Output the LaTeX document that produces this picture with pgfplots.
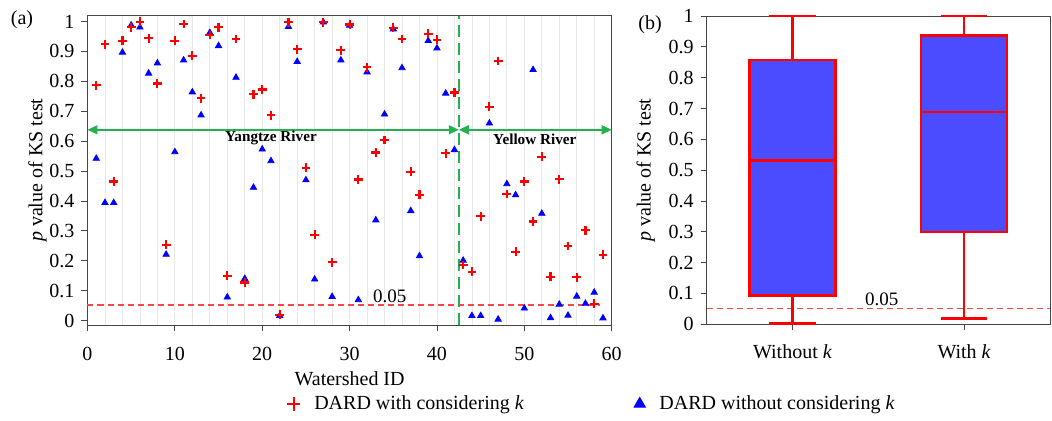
\documentclass[border=0pt]{standalone}
\usepackage{fontspec}
\setmainfont{Liberation Serif}
\usepackage{pgfplots}
\usepackage{pgfplotstable}
\pgfplotsset{compat=1.18}
\usepgfplotslibrary{statistics}
\usetikzlibrary{arrows.meta}
\definecolor{rivgreen}{RGB}{34,177,76}
\definecolor{boxblue}{RGB}{75,75,255}
\definecolor{framegray}{RGB}{70,70,70}
\definecolor{reflred}{RGB}{250,70,70}

% watershed ID, p value with k (red), p value without k (blue)
\pgfplotstableread{
id  withk  withoutk
1   0.787  0.542
2   0.924  0.394
3   0.465  0.394
4   0.936  0.897
5   0.981  0.988
6   0.999  0.981
7   0.944  0.827
8   0.793  0.861
9   0.254  0.221
10  0.936  0.564
11  0.992  0.871
12  0.886  0.764
13  0.744  0.687
14  0.955  0.963
15  0.981  0.919
16  0.150  0.078
17  0.942  0.813
18  0.127  0.140
19  0.757  0.445
20  0.773  0.573
21  0.687  0.534
22  0.019  0.016
23  0.998  0.983
24  0.907  0.866
25  0.511  0.470
26  0.287  0.138
27  0.998  0.998
28  0.195  0.080
29  0.904  0.871
30  0.990  0.987
31  0.472  0.069
32  0.847  0.831
33  0.562  0.336
34  0.604  0.690
35  0.979  0.975
36  0.942  0.845
37  0.498  0.367
38  0.421  0.216
39  0.959  0.936
40  0.939  0.911
41  0.560  0.760
42  0.763  0.571
43  0.186  0.201
44  0.163  0.016
45  0.349  0.016
46  0.715  0.660
47  0.868  0.004
48  0.423  0.457
49  0.230  0.420
50  0.465  0.041
51  0.331  0.839
52  0.548  0.358
53  0.146  0.009
54  0.473  0.054
55  0.249  0.017
56  0.145  0.081
57  0.302  0.057
58  0.056  0.094
59  0.220  0.008
}\pvals

\pgfplotsset{
  panel/.style={
    scale only axis,
    font=\fontsize{10}{12}\selectfont,
    tick pos=left, tick align=outside,
    major tick length=3pt, minor tick length=0pt,
    axis line style={framegray},
    every tick/.style={framegray},
    /pgf/number format/assume math mode=true,
    yticklabel style={/pgf/number format/fixed, /pgf/number format/precision=1},
    ytick={0,0.1,0.2,0.3,0.4,0.5,0.6,0.7,0.8,0.9,1},
    ylabel={\textit{p} value of KS test},
    clip=false,
  },
}

\begin{document}
\begin{tikzpicture}
  % (a) scatter
  \begin{axis}[
    panel,
    at={(0,0)}, anchor=south west,
    width=262.1pt, height=154.7pt,
    xmin=0, xmax=60, ymin=-0.015, ymax=1.02,
    xtick={0,10,20,30,40,50,60},
    minor x tick num=4,
    xmajorgrids, xminorgrids,
    major grid style={gray!18}, minor grid style={gray!18},
    xticklabel style={yshift=-4.5pt},
    xlabel={Watershed ID},
    xlabel style={yshift=1.5pt},
    ylabel style={yshift=-5.5pt},
    reverse legend,
    legend columns=2,
    legend style={draw=none, fill=none, inner sep=0pt,
      at={(0.38,-0.255)}, anchor=west,
      nodes={inner sep=1pt, font=\fontsize{10}{12}\selectfont},
      /tikz/every odd column/.append style={column sep=6pt},
      /tikz/every even column/.append style={column sep=54pt}},
    legend image code/.code={\draw[#1, mark size=3.3pt] plot coordinates {(0cm,0cm)};},
  ]
    \addplot[forget plot, no marks, reflred, line width=0.75pt, dash pattern=on 3pt off 2pt]
      coordinates {(0,0.052) (58.7,0.052)};
    \node[font=\fontsize{9.5}{11}\selectfont] at (34.6,0.080) {0.05};
    \draw[rivgreen, line width=0.8pt, dash pattern=on 6pt off 3pt] (42.5,-0.015) -- (42.5,1.02);
    \draw[rivgreen, line width=0.8pt, {Triangle[length=5pt,width=4.5pt]}-{Triangle[length=5pt,width=4.5pt]}] (0,0.638) -- (42.5,0.638);
    \draw[rivgreen, line width=0.8pt, {Triangle[length=5pt,width=4.5pt]}-{Triangle[length=5pt,width=4.5pt]}] (42.5,0.638) -- (60,0.638);
    \node[font=\fontsize{7.6}{9}\selectfont\bfseries] at (21.0,0.612) {Yangtze River};
    \node[font=\fontsize{7.6}{9}\selectfont\bfseries] at (51.2,0.607) {Yellow River};

    \addplot[only marks, mark=triangle*, mark size=1.8pt, color=blue, mark options={fill=blue}]
      table[x=id, y=withoutk] {\pvals};
    \addlegendentry{DARD without considering \textit{k}}
    \addplot[only marks, mark=+, mark size=2.2pt, color=red, line width=1.1pt]
      table[x=id, y=withk] {\pvals};
    \addlegendentry{DARD with considering \textit{k}}
  \end{axis}
  \node[font=\fontsize{10}{12}\selectfont] at (-32.75pt,152.5pt) {(a)};

  % (b) box plot
  \begin{axis}[
    panel,
    at={(309.6pt,0.35pt)}, anchor=south west,
    width=171.65pt, height=154.15pt,
    xmin=0.5, xmax=2.5, ymin=0, ymax=1,
    xtick={1,2},
    xticklabels={Without \textit{k}, With \textit{k}},
    xticklabel style={yshift=-3.5pt},
    boxplot/draw direction=y,
  ]
    \addplot[forget plot, no marks, reflred, line width=0.6pt, dash pattern=on 3pt off 2pt]
      coordinates {(0.5,0.05) (2.5,0.05)};
    \node[font=\fontsize{9.5}{11}\selectfont] at (1.52,0.081) {0.05};
    \addplot[draw=red, fill=boxblue, line width=1.2pt,
      boxplot prepared={lower whisker=0.003, lower quartile=0.094, median=0.531,
        upper quartile=0.857, upper whisker=1.0, draw position=1,
        box extend=0.5, whisker extend=0.27}]
      coordinates {};
    \addplot[draw=red, fill=boxblue, line width=1.2pt,
      boxplot prepared={lower whisker=0.019, lower quartile=0.300, median=0.688,
        upper quartile=0.937, upper whisker=1.0, draw position=2,
        box extend=0.5, whisker extend=0.27}]
      coordinates {};
  \end{axis}
  \node[font=\fontsize{10}{12}\selectfont] at (281.25pt,150pt) {(b)};

  \pgfresetboundingbox
  \path[use as bounding box] (-43.75pt,-47.5pt) rectangle (482.25pt,162.5pt);
\end{tikzpicture}
\end{document}
